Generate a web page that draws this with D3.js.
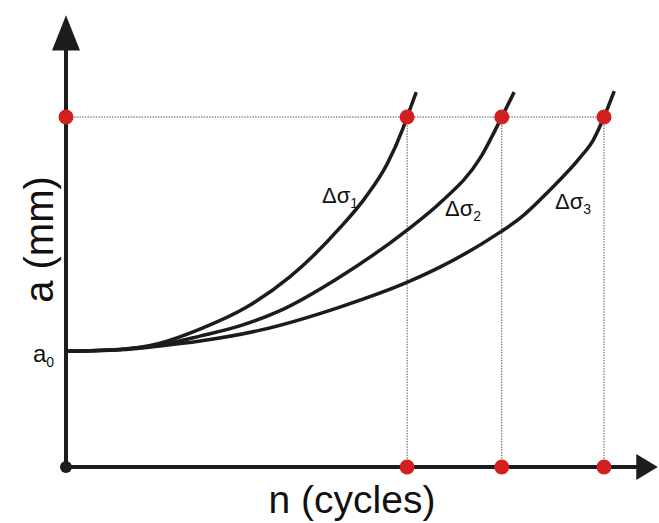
<!DOCTYPE html>
<html>
<head>
<meta charset="utf-8">
<script src="https://cdn.jsdelivr.net/npm/d3@7"></script>
<style>
  html, body { margin: 0; padding: 0; background: #fff; }
  svg { display: block; }
  text { font-family: "Liberation Sans", Arial, sans-serif; fill: #111; }
</style>
</head>
<body>
<svg id="chart" width="659" height="523"></svg>
<script>
// Crack length a versus number of cycles n for three stress ranges
const seriesNames = ["Δσ", "Δσ", "Δσ"];
const seriesSubs = ["1", "2", "3"];

const n1 = [0, 1.0, 1.75, 2.49, 3.36, 4.16, 5.09, 5.56, 5.97, 6.26, 6.34, 6.51];
const a1 = [3.31, 3.36, 3.54, 3.94, 4.57, 5.43, 6.83, 7.69, 8.66, 9.66, 10.0, 10.71];

const n2 = [0, 1.0, 1.75, 2.49, 3.23, 3.97, 5.09, 6.34, 6.95, 7.70, 8.10, 8.33];
const a2 = [3.31, 3.36, 3.49, 3.74, 4.03, 4.46, 5.43, 6.77, 7.54, 8.83, 10.0, 10.71];

const n3 = [0, 1.0, 1.75, 2.49, 3.61, 5.09, 6.39, 6.95, 8.07, 8.44, 8.99, 9.55, 9.80, 10.0, 10.19];
const a3 = [3.31, 3.35, 3.46, 3.60, 3.91, 4.57, 5.31, 5.71, 6.71, 7.11, 7.91, 8.83, 9.34, 10.0, 10.74];

// failure life for each curve and the critical / initial crack sizes
const nFail = [6.34, 8.10, 10.0];
const aCrit = 10;
const aInit = 3.31;

const svg = d3.select("#chart");
const x = d3.scaleLinear().domain([0, 11]).range([66, 657.8]);
const y = d3.scaleLinear().domain([0, 13]).range([467, 12]);

const ink = "#1c1c1c";
const red = "#d41f1f";

// dotted guides
const guide = svg.append("g")
  .attr("stroke", "#555").attr("stroke-width", 1).attr("stroke-dasharray", "1.5,1.2").attr("fill", "none");
guide.append("line")
  .attr("x1", x(0)).attr("x2", x(nFail[2])).attr("y1", y(aCrit)).attr("y2", y(aCrit));
nFail.forEach(v => {
  guide.append("line")
    .attr("x1", x(v)).attr("x2", x(v)).attr("y1", y(aCrit)).attr("y2", y(0));
});

// axes with arrowheads
const axes = svg.append("g");
axes.append("line").attr("x1", x(0)).attr("x2", x(0)).attr("y1", y(0)).attr("y2", y(12)).attr("stroke", ink).attr("stroke-width", 4);
axes.append("line").attr("x1", x(0)).attr("x2", x(10.65)).attr("y1", y(0)).attr("y2", y(0)).attr("stroke", ink).attr("stroke-width", 4);
axes.append("path")
  .attr("d", `M${x(0)},${y(12.91)} L${x(0) - 14},${y(11.9)} L${x(0) + 14},${y(11.9)} Z`)
  .attr("fill", ink);
axes.append("path")
  .attr("d", `M${x(11)},${y(0)} L${x(10.6)},${y(0) - 13} L${x(10.6)},${y(0) + 13} Z`)
  .attr("fill", ink);

// crack growth curves
const line = d3.line()
  .x(d => x(d[0])).y(d => y(d[1]))
  .curve(d3.curveMonotoneX);
const curves = [[n1, a1], [n2, a2], [n3, a3]];
svg.append("g").selectAll("path")
  .data(curves)
  .join("path")
  .attr("d", c => line(c[0].map((v, i) => [v, c[1][i]])))
  .attr("fill", "none").attr("stroke", ink).attr("stroke-width", 3.5)
  .attr("stroke-linecap", "butt");

// markers
svg.append("circle").attr("cx", x(0)).attr("cy", y(0)).attr("r", 6).attr("fill", ink);
const dots = [[0, aCrit]].concat(nFail.map(v => [v, aCrit]), nFail.map(v => [v, 0]));
svg.append("g").selectAll("circle")
  .data(dots)
  .join("circle")
  .attr("cx", d => x(d[0])).attr("cy", d => y(d[1])).attr("r", 7.5)
  .attr("fill", red);

// curve labels
const labelPos = [[322, 203], [445, 216], [555, 209]];
labelPos.forEach((p, i) => {
  const t = svg.append("text").attr("x", p[0]).attr("y", p[1]).attr("font-size", 22);
  t.append("tspan").text(seriesNames[i]);
  t.append("tspan").attr("font-size", 14).attr("dy", 5).text(seriesSubs[i]);
});

// a0 label
const a0t = svg.append("text").attr("x", 33).attr("y", y(aInit) + 11).attr("font-size", 24);
a0t.append("tspan").text("a");
a0t.append("tspan").attr("font-size", 14).attr("dy", 5).text("0");

// axis titles
svg.append("text")
  .attr("transform", `translate(53,${y(6.5)}) rotate(-90)`)
  .attr("text-anchor", "middle").attr("font-size", 40)
  .text("a (mm)");
svg.append("text")
  .attr("x", 352).attr("y", 513)
  .attr("text-anchor", "middle").attr("font-size", 39)
  .text("n (cycles)");
</script>
</body>
</html>
